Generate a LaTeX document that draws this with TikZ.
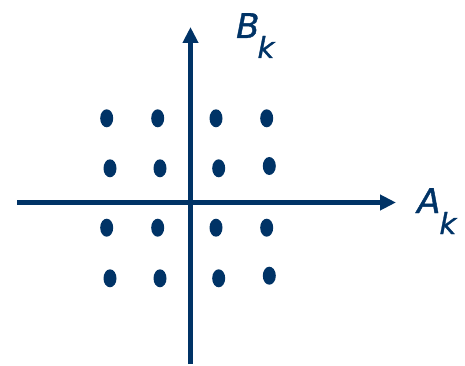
\documentclass[tikz,border=0pt]{standalone}
\usepackage{fontspec}
\setmainfont{DejaVu Sans}
\newfontfamily\lblfont[FakeBold=1.2]{DejaVu Sans}
\usetikzlibrary{arrows.meta,shapes.geometric}
\definecolor{navy}{RGB}{0,51,102}
\begin{document}
\begin{tikzpicture}[x=1pt,y=-1pt,
  axis/.style={navy,line width=5pt,-{Triangle[length=16pt,width=15pt]}},
  dot/.style={ellipse,fill=navy,minimum width=13pt,minimum height=18pt,inner sep=0pt},
  lbl/.style={text=navy,inner sep=0pt,anchor=base west,font=\lblfont\itshape}]
\useasboundingbox (0,0) rectangle (465,366);
\coordinate (xl) at (17,202.5);
\coordinate (xr) at (396,202.5);
\coordinate (yb) at (190.5,364);
\coordinate (yt) at (190.5,27);
\draw[axis] (xl) -- (xr);
\draw[axis] (yb) -- (yt);
% dots
\foreach \x/\n in {106.7/1,157.7/2,216/3,266.7/4}{
  \node[dot] (r1c\n) at (\x,118.3) {};
  \node[dot] (r3c\n) at (\x,227.7) {};
}
\foreach \x/\n in {110/1,160/2,218.7/3}{
  \node[dot] (r2c\n) at (\x,168.3) {};
  \node[dot] (r4c\n) at (\x,278.3) {};
}
\node[dot] (r2c4) at (269.3,166) {};
\node[dot] (r4c4) at (269.3,275.7) {};
% labels
\node[lbl] (bk) at (236,38) {{\fontsize{34}{34}\selectfont B}\kern-2pt\raisebox{-20pt}{\fontsize{29}{29}\selectfont k}};
\node[lbl] (ak) at (417,213) {{\fontsize{34}{34}\selectfont A}\kern-1pt\raisebox{-21pt}{\fontsize{29}{29}\selectfont k}};
\end{tikzpicture}
\end{document}
